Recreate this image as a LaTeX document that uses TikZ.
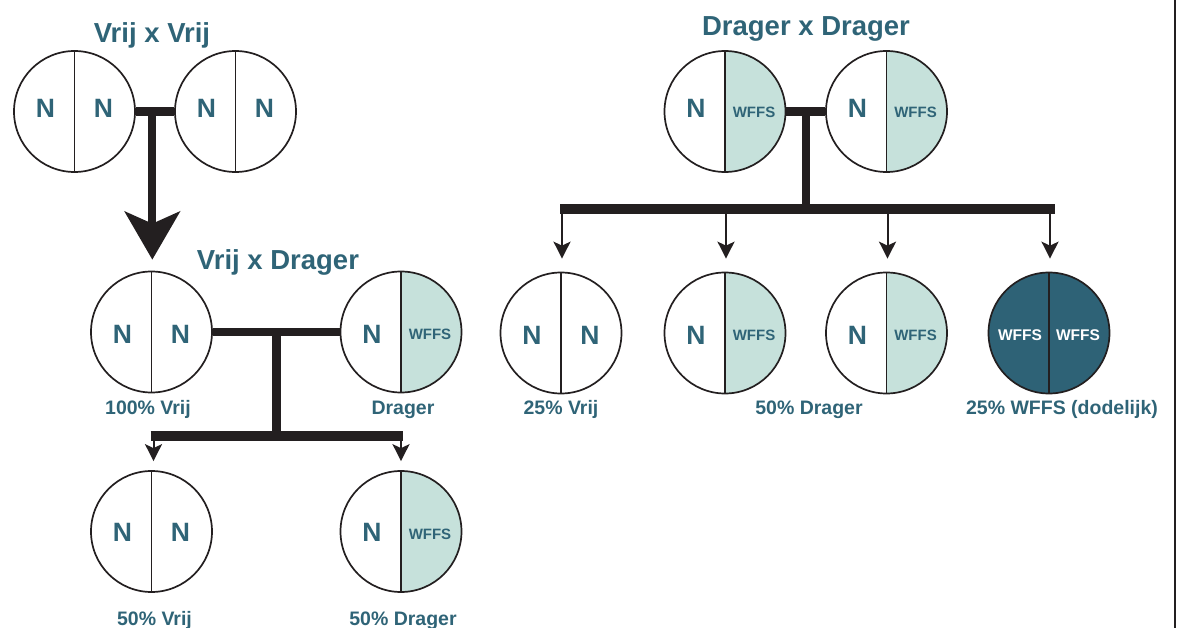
\documentclass[tikz,border=0pt]{standalone}
\usepackage{fontspec}
\setmainfont{Liberation Sans}
\usetikzlibrary{arrows.meta,calc}

\definecolor{inktext}{HTML}{2F6477}
\definecolor{lightfill}{HTML}{C6E1DB}
\definecolor{darkfill}{HTML}{2E6276}
\definecolor{linec}{HTML}{231F20}

% extra downward shift of the allele letters, set per row
\def\ndy{0}
\def\wdy{0}

% genotype circle: name, position, circle style, left style, left text, right style, right text
\newcommand\geno[7]{%
  \node[#3] (#1) at (#2) {};
  \node[#4] at ($(#1)+(-29,6)$) {#5};
  \node[#6] at ($(#1)+(29,6)$) {#7};
}

\begin{document}
\begin{tikzpicture}[x=1pt,y=-1pt,
  gbase/.style={circle, draw=linec, line width=1.7pt, minimum size=121pt, inner sep=0pt},
  gnn/.style={gbase, fill=white,
    path picture={\draw[linec, line width=1.7pt]
      (path picture bounding box.north) -- (path picture bounding box.south);}},
  gnw/.style={gbase, fill=white,
    path picture={\fill[lightfill] (path picture bounding box.north)
      rectangle (path picture bounding box.south east);
      \draw[linec, line width=1.7pt]
      (path picture bounding box.north) -- (path picture bounding box.south);}},
  gww/.style={gbase, fill=darkfill,
    path picture={\draw[linec, line width=1.7pt]
      (path picture bounding box.north) -- (path picture bounding box.south);}},
  aN/.style={anchor=base, inner sep=0pt, yshift=-\ndy pt, text=inktext,
    font=\bfseries\fontsize{26.5}{28}\selectfont},
  aW/.style={anchor=base, inner sep=0pt, yshift=-\wdy pt, text=inktext,
    font=\bfseries\fontsize{15}{16}\selectfont},
  aWd/.style={anchor=base, inner sep=0pt, yshift=-\wdy pt, text=white,
    font=\bfseries\fontsize{15.5}{16}\selectfont},
  title/.style={anchor=base, inner sep=0pt, text=inktext, font=\bfseries\fontsize{27.5}{30}\selectfont},
  caption/.style={anchor=base, inner sep=0pt, text=inktext, font=\bfseries\fontsize{19.5}{21}\selectfont},
  bar/.style={draw=linec, line width=8.5pt, line cap=butt},
  thickbar/.style={draw=linec, line width=10pt, line cap=butt},
  bigarrow/.style={draw=linec, fill=linec, line width=8pt,
    -{Stealth[length=48pt,width=55pt,inset=12pt]}},
  smallarrow/.style={draw=linec, fill=linec, line width=2pt,
    -{Stealth[length=17pt,width=17pt,inset=4pt]}}
]
\useasboundingbox (0,0) rectangle (1179,628);

% ---------- Vrij x Vrij ----------
\def\ndy{0}\def\wdy{0}
\node[title] (t1) at (152,43) {Vrij x Vrij};
\geno{a1}{74.5,111.5}{gnn}{aN}{N}{aN}{N}
\geno{a2}{235.5,111.5}{gnn}{aN}{N}{aN}{N}
\draw[bar] (a1.east) -- (a2.west);
\coordinate (j1) at ($(a1.east)!0.43!(a2.west)$);

% ---------- Vrij x Drager ----------
\def\ndy{6}\def\wdy{2}
\node[title] (t2) at (278,270) {Vrij x Drager};
\geno{b1}{151.5,332}{gnn}{aN}{N}{aN}{N}
\geno{b2}{401,332}{gnw}{aN}{N}{aW}{WFFS}
\node[caption] (l1) at (148,415) {100\% Vrij};
\node[caption] (l2) at (403,415) {Drager};
\draw[bigarrow, shorten >=11pt] (j1) -- (j1 |- b1.north);
\draw[bar] (b1.east) -- (b2.west);
\coordinate (j2) at ($(b1.east)!0.5!(b2.west)$);
\coordinate (k2) at ($(j2)+(0,104)$);
\draw[bar] (j2) -- ($(k2)+(0,-4)$);

\def\ndy{3.5}\def\wdy{2}
\geno{c1}{151.5,531.5}{gnn}{aN}{N}{aN}{N}
\geno{c2}{401,531.5}{gnw}{aN}{N}{aW}{WFFS}
\node[caption] (l3) at (154.5,625) {50\% Vrij};
\node[caption] (l4) at (403,625) {50\% Drager};
\draw[thickbar] ($(c1.north |- k2)+(-1,0)$) -- ($(c2.north |- k2)+(2,0)$);
\draw[smallarrow, shorten >=9pt] ($(c1.north |- k2)+(2,0)$) -- ($(c1.north)+(2,0)$);
\draw[smallarrow, shorten >=9pt] (c2.north |- k2) -- (c2.north);

% ---------- Drager x Drager ----------
\def\ndy{0}\def\wdy{0}
\node[title] (t3) at (806,36) {Drager x Drager};
\geno{r1}{725,111.5}{gnw}{aN}{N}{aW}{WFFS}
\geno{r2}{886.5,111.5}{gnw}{aN}{N}{aW}{WFFS}
\draw[bar] (r1.east) -- (r2.west);
\coordinate (j3) at ($(r1.east)!0.5!(r2.west)$);
\coordinate (k3) at ($(j3)+(0,98)$);
\draw[bar] (j3) -- ($(k3)+(0,-4)$);

\def\ndy{6}\def\wdy{2}
\geno{s1}{561,333}{gnn}{aN}{N}{aN}{N}
\geno{s2}{725,333}{gnw}{aN}{N}{aW}{WFFS}
\geno{s3}{886.5,333}{gnw}{aN}{N}{aW}{WFFS}
\geno{s4}{1049,333}{gww}{aWd}{WFFS}{aWd}{WFFS}
\node[caption] (l5) at (561,415) {25\% Vrij};
\node[caption] (l6) at (809,415) {50\% Drager};
\node[caption] (l7) at (1062,414) {25\% WFFS (dodelijk)};
\draw[thickbar] ($(s1.north |- k3)+(-1,0)$) -- ($(s4.north |- k3)+(6,0)$);
\foreach \s in {s1,s2,s3,s4}
  \draw[smallarrow, shorten >=13pt] ($(\s.north |- k3)+(1,0)$) -- ($(\s.north)+(1,0)$);

% right-hand rule
\draw[linec, line width=2pt] (1175,0) -- (1175,628);
\end{tikzpicture}
\end{document}
